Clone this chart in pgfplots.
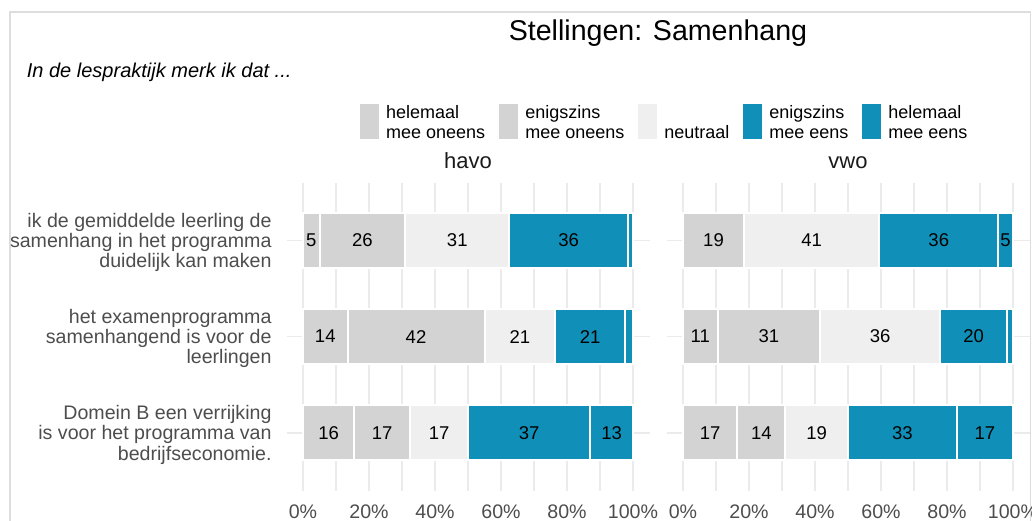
\documentclass[border=0pt]{standalone}
\usepackage{fontspec}
\setmainfont{Liberation Sans}
\usepackage{pgfplots}
\pgfplotsset{compat=1.18}
\definecolor{cgrey}{HTML}{D3D3D3}
\definecolor{cneut}{HTML}{EFEFEF}
\definecolor{cblue}{HTML}{1090B8}
\definecolor{cgrid}{HTML}{EBEBEB}
\definecolor{ctick}{HTML}{4D4D4D}
\definecolor{cstrip}{HTML}{1A1A1A}
\definecolor{cborder}{HTML}{DDDDDD}

\newcommand\ylab[1]{\begin{tabular}{@{}r@{}}#1\end{tabular}}

\pgfplotsset{
  panel/.style={
    scale only axis, width=363pt, height=308pt,
    xmin=-5, xmax=105, ymin=0.4, ymax=3.6,
  },
  barpanel/.style={
    panel,
    xbar stacked, bar width=55pt,
    axis line style={draw=none},
    tick style={draw=none},
    major tick length=0pt, minor tick length=0pt,
    xtick={0,20,40,60,80,100},
    xticklabels={0\%,20\%,40\%,60\%,80\%,100\%},
    minor xtick={10,30,50,70,90},
    ytick={1,2,3},
    xmajorgrids, xminorgrids, ymajorgrids,
    major grid style={cgrid, line width=1.6pt},
    minor grid style={cgrid, line width=1.6pt},
    xticklabel style={font=\fontsize{19.6}{22}\selectfont, text=ctick, inner sep=0pt, anchor=north, yshift=-14pt},
    yticklabel style={font=\fontsize{19.6}{20}\selectfont, text=ctick, inner sep=0pt, anchor=east, xshift=-14.8pt, yshift=-3pt},
    title style={at={(0.5,1)}, anchor=base, yshift=8pt, font=\fontsize{22}{26}\selectfont, text=cstrip},
  },
  labpanel/.style={panel, hide axis},
  seg/.style={fill=#1, draw=white, line width=2pt,
    legend image code/.code={\fill[#1] (0pt,-17pt) rectangle (17pt,16pt);}},
  labs/.style={only marks, mark=none, nodes near coords, point meta=explicit symbolic,
    nodes near coords style={anchor=center, font=\fontsize{18.5}{22}\selectfont, text=black, inner sep=0pt}},
}

\pgfplotstableread{
x y l
2.5 3 5
18 3 26
46.75 3 31
80.5 3 36
6.75 2 14
34.25 2 42
65.75 2 21
87 2 21
7.75 1 16
24 1 17
41.25 1 17
68.5 1 37
93.5 1 13
}\havolabels

\pgfplotstableread{
x y l
9.25 3 19
39 3 41
77.5 3 36
97.75 3 5
5.25 2 11
26 2 31
59.75 2 36
88.1 2 20
8.25 1 17
23.75 1 14
40.5 1 19
66.5 1 33
91.5 1 17
}\vwolabels

\begin{document}
\begin{tikzpicture}
\useasboundingbox (0,0) rectangle (1032pt,521pt);
\draw[cborder, line width=1.5pt] (10pt,-10pt) rectangle (1030.5pt,509pt);
\node[anchor=base, inner sep=0pt, font=\fontsize{28.6}{34}\selectfont] at (658pt,480.5pt) {Stellingen: Samenhang};
\node[anchor=base west, inner sep=0pt, font=\fontsize{20}{24}\selectfont\itshape] at (26.7pt,443pt) {In de lespraktijk merk ik dat ...};

% havo
\begin{axis}[barpanel, at={(286.5pt,30.4pt)}, anchor=south west, title={havo},
  yticklabels={{\ylab{Domein B een verrijking\\is voor het programma van\\bedrijfseconomie.}},{\ylab{het examenprogramma\\samenhangend is voor de\\leerlingen}},{\ylab{ik de gemiddelde leerling de\\samenhang in het programma\\duidelijk kan maken}}},
  legend columns=5, legend cell align=left,
  legend style={draw=none, fill=none, inner sep=0pt, at={(0.2025,1.2552)}, anchor=north west,
    font=\fontsize{18}{20}\selectfont, nodes={inner sep=0pt, text=black, yshift=4pt},
    /tikz/every odd column/.append style={column sep=7pt},
    /tikz/every even column/.append style={column sep=14pt}},
]
\addplot[seg=cgrey] coordinates {(5,3) (13.5,2) (15.5,1)};
\addlegendentry{\begin{tabular}{@{}l@{}}helemaal\\mee oneens\end{tabular}}
\addplot[seg=cgrey] coordinates {(26,3) (41.5,2) (17,1)};
\addlegendentry{\begin{tabular}{@{}l@{}}enigszins\\mee oneens\end{tabular}}
\addplot[seg=cneut] coordinates {(31.5,3) (21.5,2) (17.5,1)};
\addlegendentry{\begin{tabular}{@{}l@{}}\mbox{}\\neutraal\end{tabular}}
\addplot[seg=cblue] coordinates {(36,3) (21,2) (37,1)};
\addlegendentry{\begin{tabular}{@{}l@{}}enigszins\\mee eens\end{tabular}}
\addplot[seg=cblue] coordinates {(1.5,3) (2.5,2) (13,1)};
\addlegendentry{\begin{tabular}{@{}l@{}}helemaal\\mee eens\end{tabular}}
\end{axis}
\begin{axis}[labpanel, at={(286.5pt,30.4pt)}, anchor=south west]
\addplot[labs] table[x=x, y=y, meta=l] {\havolabels};
\end{axis}

% vwo
\begin{axis}[barpanel, at={(666.5pt,30.4pt)}, anchor=south west, title={vwo},
  yticklabels={,,}]
\addplot[seg=cgrey] coordinates {(0,3) (10.5,2) (16.5,1)};
\addplot[seg=cgrey] coordinates {(18.5,3) (31,2) (14.5,1)};
\addplot[seg=cneut] coordinates {(41,3) (36.5,2) (19,1)};
\addplot[seg=cblue] coordinates {(36,3) (20.2,2) (33,1)};
\addplot[seg=cblue] coordinates {(4.5,3) (1.8,2) (17,1)};
\end{axis}
\begin{axis}[labpanel, at={(666.5pt,30.4pt)}, anchor=south west]
\addplot[labs] table[x=x, y=y, meta=l] {\vwolabels};
\end{axis}
\end{tikzpicture}
\end{document}
